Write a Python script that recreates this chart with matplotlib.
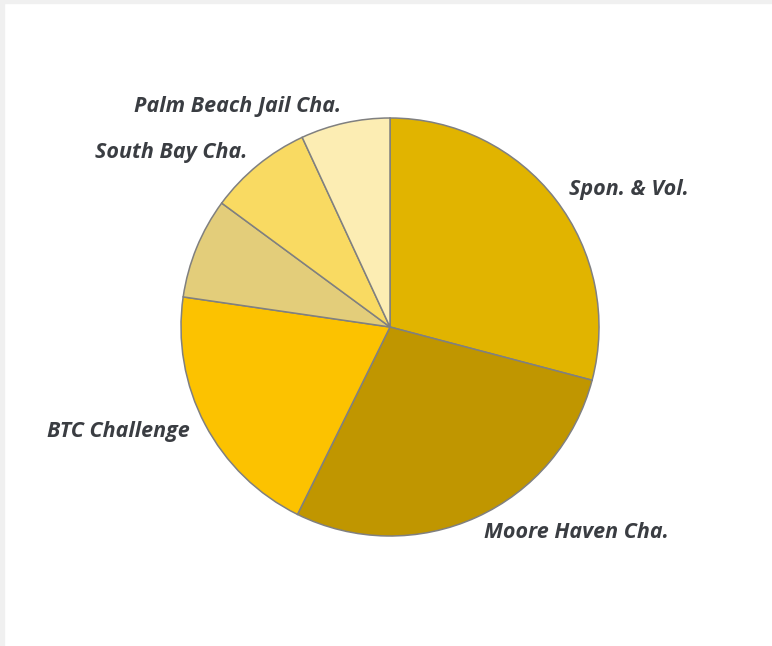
import matplotlib
matplotlib.use('Agg')
import matplotlib.pyplot as plt
import matplotlib.patches as mpatches
from matplotlib import font_manager as fm

# データ（画像から読み取り、%）
labels = ['Spon. & Vol.', 'Moore Haven Cha.', 'BTC Challenge', '',
          'South Bay Cha.', 'Palm Beach Jail Cha.']
values = [29.1, 28.2, 20.0, 7.8, 8.0, 6.9]
colors = ['#e1b400', '#c09600', '#fcc200', '#e3cd7a', '#f9da62', '#fcedb3']

# Open Sans Bold Italic を直接指定（無ければ通常指定）
_fp = None
for f in fm.fontManager.ttflist:
    if f.fname.endswith('OpenSans-BoldItalic.ttf'):
        _fp = fm.FontProperties(fname=f.fname, size=15.5)
        break
if _fp is None:
    _fp = fm.FontProperties(family='Open Sans', weight='bold', style='italic', size=15.5)

W, H = 772, 646
fig = plt.figure(figsize=(W / 100, H / 100), dpi=100, facecolor='white')

# 外枠のグレー帯（上・左）
fig.patches.append(mpatches.Rectangle((0, (H - 3) / H), 1, 3 / H,
                                      transform=fig.transFigure,
                                      color='#f0f0f0', zorder=0))
fig.patches.append(mpatches.Rectangle((0, 0), 4 / W, 1,
                                      transform=fig.transFigure,
                                      color='#f0f0f0', zorder=0))

cx, cy, r = 390, 327, 209
ax = fig.add_axes([(cx - r) / W, (H - cy - r) / H, 2 * r / W, 2 * r / H])

wedges, texts = ax.pie(values, labels=labels, colors=colors, startangle=90,
                       counterclock=False, radius=1, labeldistance=1.08,
                       wedgeprops=dict(edgecolor='#808080', linewidth=1.1),
                       textprops=dict(color='#3a3d42'))
ax.set_xlim(-1, 1)
ax.set_ylim(-1, 1)
ax.axis('off')
for t in texts:
    t.set_fontproperties(_fp)
    t.set_va('center')
    t.set_clip_on(False)

fig.savefig('out.png', dpi=100, facecolor='white')
